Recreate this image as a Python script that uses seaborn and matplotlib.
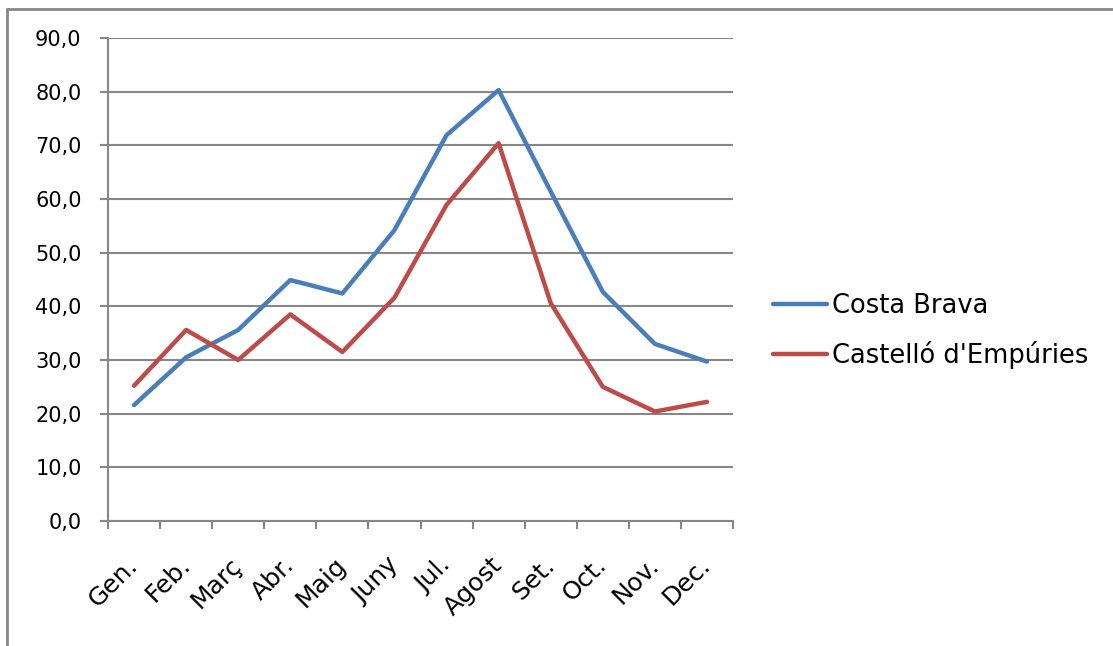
import matplotlib
matplotlib.use("Agg")
import matplotlib.pyplot as plt
from matplotlib.lines import Line2D
import numpy as np
import pandas as pd
import seaborn as sns

months = ["Gen.", "Feb.", "Març", "Abr.", "Maig", "Juny",
          "Jul.", "Agost", "Set.", "Oct.", "Nov.", "Dec."]
costa_brava = [21.6, 30.5, 35.6, 44.9, 42.4, 54.2, 71.9, 80.3, 61.4, 42.7, 33.0, 29.7]
castello = [25.2, 35.6, 30.0, 38.5, 31.5, 41.6, 58.9, 70.4, 40.6, 25.0, 20.4, 22.2]
series_names = ["Costa Brava", "Castelló d'Empúries"]
y_ticks = [0, 10, 20, 30, 40, 50, 60, 70, 80, 90]

df = pd.DataFrame({
    "pos": list(range(len(months))) * 2,
    "value": costa_brava + castello,
    "serie": [series_names[0]] * len(months) + [series_names[1]] * len(months),
})

sns.set_theme(style="white")
plt.rcParams["font.family"] = ["DejaVu Sans"]
plt.rcParams["text.color"] = "black"
plt.rcParams["xtick.color"] = "black"
plt.rcParams["ytick.color"] = "black"

grey = "#878787"
blue, red = "#4A7EBB", "#BE4B48"
fig = plt.figure(figsize=(11.13, 6.46), dpi=100)
ax = fig.add_axes([108 / 1113, 1 - 521 / 646, (733 - 108) / 1113, (521 - 38) / 646])

sns.lineplot(data=df, x="pos", y="value", hue="serie",
             palette=[blue, red], linewidth=3.2,
             legend=False, ax=ax, sort=False)

ax.set_xlim(-0.5, len(months) - 0.5)
ax.set_ylim(0, 90)
ax.set_xlabel("")
ax.set_ylabel("")

# horizontal gridlines
ax.set_yticks(y_ticks)
ax.set_yticklabels([f"{v:.1f}".replace(".", ",") for v in y_ticks])
ax.yaxis.grid(True, color=grey, linewidth=1.5)
ax.set_axisbelow(True)

# category boundaries as tick marks, labels at the centres
ax.set_xticks(np.arange(-0.5, len(months), 1.0))
ax.set_xticklabels([])
ax.set_xticks(np.arange(len(months)), minor=True)
ax.set_xticklabels(months, minor=True, rotation=45, ha="right", va="center",
                   rotation_mode="anchor", fontsize=18)
ax.tick_params(axis="x", which="minor", length=0, pad=29)
ax.tick_params(axis="x", which="major", length=6, width=1.5, color=grey,
               direction="out", bottom=True)
ax.tick_params(axis="y", length=6, width=1.5, color=grey, direction="out",
               left=True, labelsize=15, pad=13)

for side in ["top", "right"]:
    ax.spines[side].set_visible(False)
for side in ["left", "bottom"]:
    ax.spines[side].set_color(grey)
    ax.spines[side].set_linewidth(1.5)

handles = [Line2D([], [], color=blue, linewidth=3.2, solid_capstyle="round"),
           Line2D([], [], color=red, linewidth=3.2, solid_capstyle="round")]
fig.legend(handles, series_names, loc="center left",
           bbox_to_anchor=(773 / 1113, 1 - 331 / 646), frameon=False,
           fontsize=18.5, handlelength=2.1, handletextpad=0.2,
           labelspacing=0.85, borderpad=0, borderaxespad=0)

# outer chart frame
fig.add_artist(Line2D([7 / 1113, 7 / 1113], [0, 1 - 9 / 646],
                      transform=fig.transFigure, color=grey, linewidth=2))
fig.add_artist(Line2D([7 / 1113, 1], [1 - 9 / 646, 1 - 9 / 646],
                      transform=fig.transFigure, color=grey, linewidth=2))

fig.savefig("out.png", dpi=100)
